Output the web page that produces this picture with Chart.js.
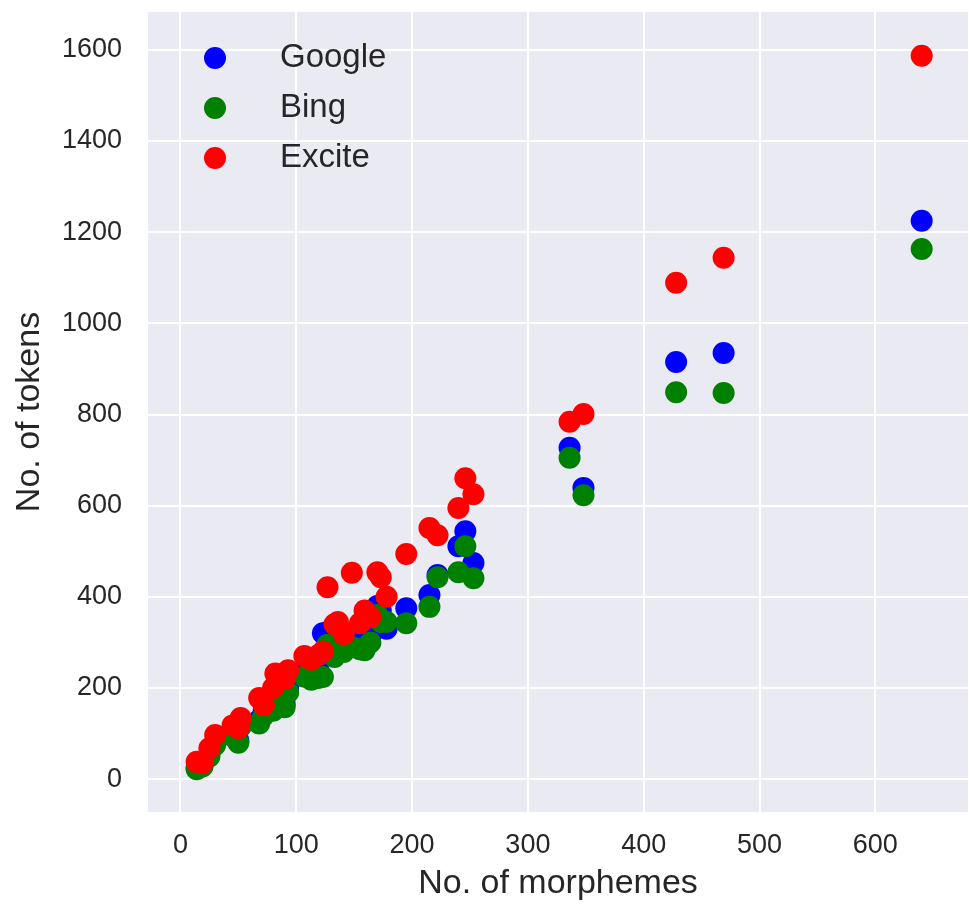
<!DOCTYPE html>
<html>
<head>
<meta charset="utf-8">
<script src="https://cdn.jsdelivr.net/npm/chart.js@4.4.1/dist/chart.umd.min.js"></script>
<style>
  body { margin: 0; background: #ffffff; }
  #wrap { width: 969px; height: 905px; }
</style>
</head>
<body>
<div id="wrap"><canvas id="myChart" width="969" height="905"></canvas></div>
<script>
// morphemes per text, and tokens counted by each engine
const morphemes = [14, 19, 25, 30, 45, 50, 52, 68, 72, 80, 82, 90, 93, 107, 113, 119, 123, 127, 133, 136,
    141, 148, 155, 159, 164, 170, 173, 178, 195, 215, 222, 240, 246, 253, 336, 348, 428, 469, 640];
const google = [25, 30, 55, 80, 100, 85, 120, 130, 150, 155, 180, 165, 200, 235, 225, 240, 320, 323, 300, 330,
    320, 310, 290, 310, 312, 380, 370, 330, 375, 404, 448, 511, 544, 474, 727, 639, 915, 935, 1225];
const bing = [22, 28, 50, 75, 95, 80, 115, 122, 140, 150, 170, 158, 190, 225, 218, 222, 224, 295, 268, 300,
    279, 290, 285, 283, 300, 360, 345, 345, 342, 378, 443, 454, 511, 441, 705, 623, 849, 847, 1163];
const excite = [38, 35, 68, 97, 118, 112, 134, 178, 162, 200, 232, 220, 239, 270, 262, 272, 280, 421, 340, 345,
    318, 453, 342, 370, 355, 454, 443, 400, 494, 551, 535, 595, 660, 625, 784, 801, 1089, 1144, 1587];

const xTicks = [0, 100, 200, 300, 400, 500, 600];
const yTicks = [0, 200, 400, 600, 800, 1000, 1200, 1400, 1600];

function pts(ys) {
    return morphemes.map(function (m, i) { return { x: m, y: ys[i] }; });
}

const bgPlugin = {
    id: 'bg',
    beforeDraw(chart) {
        const a = chart.chartArea, ctx = chart.ctx;
        ctx.save();
        ctx.fillStyle = '#EAEAF2';
        ctx.fillRect(a.left, a.top, a.right - a.left, a.bottom - a.top);
        ctx.restore();
    }
};

// legend drawn inside the plot, top left
const legendPlugin = {
    id: 'innerLegend',
    afterDatasetsDraw(chart) {
        const a = chart.chartArea, ctx = chart.ctx;
        ctx.save();
        ctx.font = '33px "Liberation Sans", Arial, sans-serif';
        ctx.textBaseline = 'middle';
        chart.data.datasets.forEach(function (ds, i) {
            const y = a.top + 46 + i * 50;
            ctx.fillStyle = ds.backgroundColor;
            ctx.beginPath();
            ctx.arc(a.left + 67, y, 11, 0, Math.PI * 2);
            ctx.fill();
            ctx.fillStyle = '#262626';
            ctx.fillText(ds.label, a.left + 132, y);
        });
        ctx.restore();
    }
};

const tickFont = { family: '"Liberation Sans", Arial, sans-serif', size: 27 };
const titleFont = { family: '"Liberation Sans", Arial, sans-serif', size: 34 };
function plain(v) { return String(v); }

var chart = new Chart("myChart", {
    type: "scatter",
    data: {
        datasets: [
            { label: "Google", data: pts(google), backgroundColor: "#0000FF", order: 3 },
            { label: "Bing", data: pts(bing), backgroundColor: "#008000", order: 2 },
            { label: "Excite", data: pts(excite), backgroundColor: "#FF0000", order: 1 }
        ]
    },
    options: {
        responsive: false,
        devicePixelRatio: 1,
        animation: false,
        layout: { autoPadding: false, padding: { top: 12, right: 1, left: 0, bottom: 0 } },
        elements: { point: { radius: 11, hoverRadius: 11, borderWidth: 0 } },
        plugins: { legend: { display: false }, tooltip: { enabled: false } },
        scales: {
            x: {
                type: 'linear',
                min: -28, max: 680,
                afterBuildTicks(s) { s.ticks = xTicks.map(function (v) { return { value: v }; }); },
                afterFit(s) { s.height = 93; s.paddingLeft = 0; s.paddingRight = 0; },
                grid: { color: '#ffffff', lineWidth: 2, drawTicks: false },
                border: { display: false },
                ticks: { font: tickFont, color: '#262626', padding: 17, maxRotation: 0, callback: plain },
                title: { display: true, text: 'No. of morphemes', font: titleFont, color: '#262626', padding: { top: 0, bottom: 1 } }
            },
            y: {
                type: 'linear',
                min: -72, max: 1683,
                afterBuildTicks(s) { s.ticks = yTicks.map(function (v) { return { value: v }; }); },
                afterFit(s) { s.width = 148; s.paddingTop = 0; s.paddingBottom = 0; },
                grid: { color: '#ffffff', lineWidth: 2, drawTicks: false },
                border: { display: false },
                ticks: { font: tickFont, color: '#262626', padding: 26, callback: plain },
                title: { display: true, text: 'No. of tokens', font: titleFont, color: '#262626', padding: { top: 9, bottom: 0 } }
            }
        }
    },
    plugins: [bgPlugin, legendPlugin]
});
</script>
</body>
</html>
